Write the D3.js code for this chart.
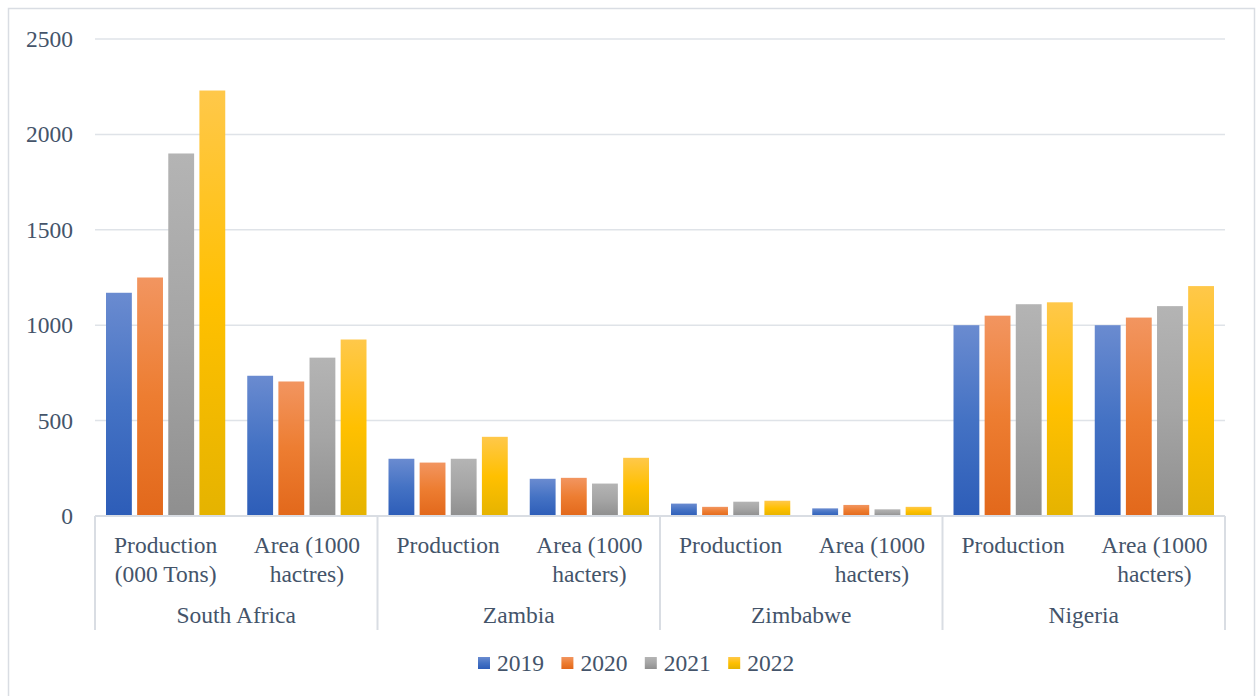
<!DOCTYPE html>
<html>
<head>
<meta charset="utf-8">
<script src="https://cdn.jsdelivr.net/npm/d3@7"></script>
<style>
  html, body { margin: 0; padding: 0; background: #fff; }
</style>
</head>
<body>
<svg id="chart" width="1259" height="696"></svg>
<script>
// Countries and the two measures reported for each
const countries = ["South Africa", "Zambia", "Zimbabwe", "Nigeria"];
const measureLabels = [
  ["Production", "(000 Tons)"], ["Area (1000", "hactres)"],
  ["Production"], ["Area (1000", "hacters)"],
  ["Production"], ["Area (1000", "hacters)"],
  ["Production"], ["Area (1000", "hacters)"]
];
const years = ["2019", "2020", "2021", "2022"];

// One array per year, ordered as the eight measure columns above
const values2019 = [1170, 735, 300, 195, 65, 40, 1000, 1000];
const values2020 = [1250, 705, 280, 200, 48, 58, 1050, 1040];
const values2021 = [1900, 830, 300, 170, 75, 35, 1110, 1100];
const values2022 = [2230, 925, 415, 305, 80, 48, 1120, 1205];
const seriesValues = [values2019, values2020, values2021, values2022];

const yTicks = [0, 500, 1000, 1500, 2000, 2500];

// Fill ramps (top, middle, bottom) for each year
const palette = [
  ["#6a8bd0", "#4472c4", "#2d5db8"],
  ["#f29560", "#ed7d31", "#e2681b"],
  ["#b4b4b4", "#a5a5a5", "#8f8f8f"],
  ["#ffc84a", "#ffc000", "#e5b300"]
];

const FONT = "Liberation Serif";
const FONT_SIZE = 23.5;
const TEXT_COLOR = "#44546a";
const svg = d3.select("#chart");
const plotLeft = 95, plotRight = 1225, plotTop = 39, zeroY = 516;

// Outer frame
svg.append("rect")
  .attr("x", 8.5).attr("y", 8.5).attr("width", 1246).attr("height", 700)
  .attr("fill", "none").attr("stroke", "#d9dde3").attr("stroke-width", 1.5);

const defs = svg.append("defs");
palette.forEach((c, i) => {
  const g = defs.append("linearGradient").attr("id", "grad" + i)
    .attr("x1", 0).attr("y1", 0).attr("x2", 0).attr("y2", 1);
  g.append("stop").attr("offset", "0%").attr("stop-color", c[0]);
  g.append("stop").attr("offset", "50%").attr("stop-color", c[1]);
  g.append("stop").attr("offset", "100%").attr("stop-color", c[2]);
});

const y = d3.scaleLinear().domain([0, 2500]).range([zeroY, plotTop]);
const x0 = d3.scaleBand().domain(d3.range(8)).range([plotLeft, plotRight]).paddingInner(0).paddingOuter(0);
const x1 = d3.scaleBand().domain(d3.range(4)).range([11, x0.bandwidth() - 11]).paddingInner(0.17).paddingOuter(0);

// Horizontal gridlines
svg.append("g").selectAll("line").data(yTicks.filter(t => t > 0)).join("line")
  .attr("x1", plotLeft).attr("x2", plotRight)
  .attr("y1", d => y(d)).attr("y2", d => y(d))
  .attr("stroke", "#dfe3e8").attr("stroke-width", 1.5);

// Y axis labels
const yAxis = svg.append("g").attr("transform", `translate(${plotLeft},0)`)
  .call(d3.axisLeft(y).tickValues(yTicks).tickFormat(d3.format("d")).tickSize(0).tickPadding(22))
  .attr("font-family", FONT).attr("font-size", FONT_SIZE);
yAxis.select(".domain").remove();
yAxis.selectAll("text").attr("fill", TEXT_COLOR);

// Bars
const groups = svg.append("g").selectAll("g").data(d3.range(8)).join("g")
  .attr("transform", d => `translate(${x0(d)},0)`);
groups.selectAll("rect").data(c => seriesValues.map((s, i) => ({ i, v: s[c] }))).join("rect")
  .attr("x", d => x1(d.i))
  .attr("width", x1.bandwidth())
  .attr("y", d => y(d.v))
  .attr("height", d => zeroY - y(d.v))
  .attr("fill", d => `url(#grad${d.i})`);

// Category axis: baseline and separators
const axisG = svg.append("g").attr("stroke", "#d9dde3").attr("stroke-width", 2);
axisG.append("line").attr("x1", plotLeft).attr("x2", plotRight).attr("y1", zeroY).attr("y2", zeroY);
const countryScale = d3.scaleBand().domain(countries).range([plotLeft, plotRight]);
const seps = countries.map(c => countryScale(c)).concat([plotRight]);
axisG.selectAll("line.sep").data(seps).join("line").attr("class", "sep")
  .attr("x1", d => d).attr("x2", d => d).attr("y1", zeroY).attr("y2", 630);

// Measure labels
const mLab = svg.append("g").attr("font-family", FONT).attr("font-size", FONT_SIZE).attr("fill", TEXT_COLOR)
  .selectAll("text").data(measureLabels).join("text")
  .attr("text-anchor", "middle")
  .attr("x", (d, i) => x0(i) + x0.bandwidth() / 2)
  .attr("y", 553);
mLab.selectAll("tspan").data(d => d).join("tspan")
  .attr("x", function () { return d3.select(this.parentNode).attr("x"); })
  .attr("dy", (d, i) => i === 0 ? 0 : 29)
  .text(d => d);

// Country labels
svg.append("g").attr("font-family", FONT).attr("font-size", FONT_SIZE).attr("fill", TEXT_COLOR)
  .selectAll("text").data(countries).join("text")
  .attr("text-anchor", "middle")
  .attr("x", d => countryScale(d) + countryScale.bandwidth() / 2)
  .attr("y", 623)
  .text(d => d);

// Legend
const legend = svg.append("g").attr("font-family", FONT).attr("font-size", FONT_SIZE).attr("fill", TEXT_COLOR)
  .selectAll("g").data(years).join("g")
  .attr("transform", (d, i) => `translate(${478 + i * 83.4},0)`);
legend.append("rect").attr("x", 0).attr("y", 657).attr("width", 12).attr("height", 12)
  .attr("fill", (d, i) => `url(#grad${i})`);
legend.append("text").attr("x", 19).attr("y", 671).text(d => d);
</script>
</body>
</html>
